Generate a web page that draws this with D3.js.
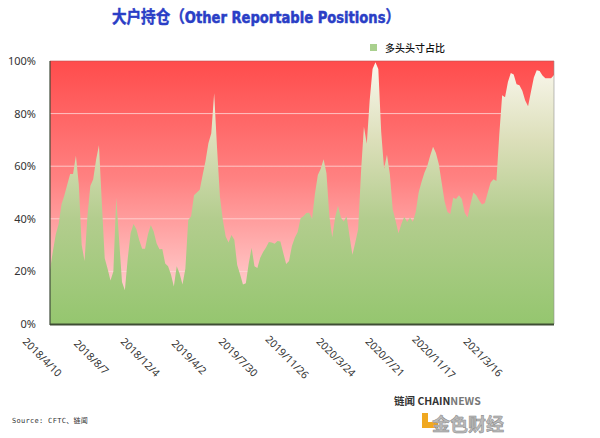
<!DOCTYPE html>
<html><head><meta charset="utf-8">
<script src="https://cdn.jsdelivr.net/npm/d3@7"></script>
<style>body{margin:0;background:#fff} svg{display:block}</style>
</head><body><svg id="c" width="600" height="438"></svg>
<script>
// ---- data ----
const startDate = "2018-04-10";          // first weekly report
const longShare = [
 20.5,27.7,34,38,45.5,49,53,57,57,64,
 53,30,24,41,52.5,55,62.5,68,46,25,
 21,16.5,20,48,32,16,12.8,25,34.6,38,
 36,31.8,28.6,28.6,34,37.6,35.2,30.7,28.4,28.5,
 23,22,18.8,14.3,22,19.2,15,21,39.5,41,
 49,50,51,56.7,62,68.7,72.5,87.7,67,48.5,
 39.6,33.3,31,33.8,32,22.4,18.9,15,15.5,23,
 29,22,21.3,25.2,27.4,29.1,31.2,31,30.5,31.6,
 31.4,27,22.8,24,29.7,32.8,35,40.2,41,42.2,
 42.3,40,49.5,56.7,59,62.6,57.3,41,33,40.5,
 45,40.5,39,41,33.5,26.3,31,36,58,75,
 68.5,85,97,99.5,97,73,59,64.4,57,43.5,
 39.3,34.5,38,40.8,38.8,40.5,38.9,42.6,50,54,
 57.5,60.1,64,67.4,65,60.8,53.7,46.7,42.6,41.8,
 48,47.5,49,47.5,42.2,40.5,45.5,50,49,47,
 45.4,46,50,53.8,55,54.4,72,87,86.2,92,
 95.4,94.9,91.2,90.8,88.7,85,82.8,88.3,93.7,96.5,
 96.2,94.5,93.4,93.4,93.4,94.7
];
const yTicks = [0, 20, 40, 60, 80, 100];
const xTickLabels = ["2018/4/10","2018/8/7","2018/12/4","2019/4/2","2019/7/30",
                     "2019/11/26","2020/3/24","2020/7/21","2020/11/17","2021/3/16"];
const title = "大户持仓（Other Reportable Positions）";
const legendLabel = "多头头寸占比";
const sourceText = "Source: CFTC、链闻";

// ---- build ----
const parseD = d3.utcParse("%Y-%m-%d");
const parseT = d3.utcParse("%Y/%m/%d");
const t0 = parseD(startDate);
const data = longShare.map((v, i) => ({date: d3.utcDay.offset(t0, 7 * i), value: v}));
const fmt = d3.utcFormat("%Y/%-m/%-d");

const svg = d3.select("#c");
const L = 50, R = 554, T = 61, B = 324;
const x = d3.scaleUtc().domain(d3.extent(data, d => d.date)).range([L, R]);
const y = d3.scaleLinear().domain([0, 100]).range([B, T]);

const defs = svg.append("defs");
const bg = defs.append("linearGradient").attr("id", "bgG")
  .attr("gradientUnits", "userSpaceOnUse").attr("x1", 0).attr("x2", 0).attr("y1", T).attr("y2", B);
bg.append("stop").attr("offset", 0).attr("stop-color", "#ff4c4c");
bg.append("stop").attr("offset", 0.45).attr("stop-color", "#ff8282");
bg.append("stop").attr("offset", 1).attr("stop-color", "#ffe4e4");
const ag = defs.append("linearGradient").attr("id", "arG")
  .attr("gradientUnits", "userSpaceOnUse").attr("x1", 0).attr("x2", 0).attr("y1", T).attr("y2", B);
ag.append("stop").attr("offset", 0).attr("stop-color", "#fbf8ef");
ag.append("stop").attr("offset", 0.3).attr("stop-color", "#dcdfba");
ag.append("stop").attr("offset", 0.6).attr("stop-color", "#b3cd8e");
ag.append("stop").attr("offset", 1).attr("stop-color", "#95c66f");

// plot background
svg.append("rect").attr("x", L).attr("y", T).attr("width", R - L).attr("height", B - T)
  .attr("fill", "url(#bgG)");

// gridlines
svg.append("g").selectAll("line").data(yTicks.filter(d => d > 0 && d < 100)).join("line")
  .attr("x1", L).attr("x2", R).attr("y1", d => y(d)).attr("y2", d => y(d))
  .attr("stroke", "#ffd6d6").attr("stroke-width", 1).attr("opacity", 0.85);

// area
const area = d3.area().x(d => x(d.date)).y0(B).y1(d => y(d.value));
svg.append("path").datum(data).attr("d", area).attr("fill", "url(#arG)");

// borders
svg.append("line").attr("x1", L).attr("x2", R).attr("y1", T).attr("y2", T)
  .attr("stroke", "#c05050").attr("stroke-width", 0.6);
svg.append("line").attr("x1", R).attr("x2", R).attr("y1", T).attr("y2", B)
  .attr("stroke", "#909090").attr("stroke-width", 0.6);
svg.append("line").attr("x1", L).attr("x2", L).attr("y1", T).attr("y2", B + 1)
  .attr("stroke", "#3f4a3a").attr("stroke-width", 1.2);
svg.append("line").attr("x1", L).attr("x2", R).attr("y1", B + 0.5).attr("y2", B + 0.5)
  .attr("stroke", "#3e4d34").attr("stroke-width", 1.8);

// y axis labels
const yAxis = d3.axisLeft(y).tickValues(yTicks).tickFormat(d => d + "%").tickSize(0).tickPadding(14);
const yg = svg.append("g").attr("transform", `translate(${L},0)`).call(yAxis);
yg.select(".domain").remove();
yg.selectAll("text").attr("font-family", "'Noto Sans','Open Sans',sans-serif")
  .attr("font-size", 11).attr("fill", "#333");

// x axis labels
const xVals = xTickLabels.map(s => parseT(s));
const xAxis = d3.axisBottom(x).tickValues(xVals).tickFormat(fmt).tickSize(0);
const xg = svg.append("g").attr("transform", `translate(0,${B})`).call(xAxis);
xg.select(".domain").remove();
xg.selectAll(".tick text")
  .attr("font-family", "'Noto Sans','Open Sans',sans-serif").attr("font-size", 10.5).attr("fill", "#333")
  .attr("text-anchor", "middle").attr("dy", null).attr("y", 0)
  .attr("dominant-baseline", "central")
  .attr("transform", "translate(-8,33) rotate(45)");

// title
svg.append("text").attr("x", 112).attr("y", 23)
  .attr("font-family", "'DejaVu Sans Condensed','Noto Sans CJK SC',sans-serif")
  .attr("font-weight", "bold").attr("font-size", 16.5).attr("fill", "#2a3ec6")
  .attr("stroke", "#2a3ec6").attr("stroke-width", 0.5)
  .attr("textLength", 288).attr("lengthAdjust", "spacingAndGlyphs").text(title);

// legend
svg.append("rect").attr("x", 370).attr("y", 44).attr("width", 7).attr("height", 7).attr("fill", "#a9d08e");
svg.append("text").attr("x", 385).attr("y", 51.5)
  .attr("font-family", "'Noto Sans CJK SC',sans-serif").attr("font-weight", 500)
  .attr("font-size", 10).attr("fill", "#111").text(legendLabel);

// source
svg.append("text").attr("x", 12).attr("y", 423)
  .attr("font-family", "'DejaVu Sans Mono','Noto Sans CJK SC',monospace")
  .attr("font-size", 7).attr("letter-spacing", 0.3).attr("fill", "#333").text(sourceText);

// bottom-right logos
const lg = svg.append("g");
const t1 = lg.append("text").attr("x", 394).attr("y", 405)
  .attr("font-family", "'Noto Sans CJK SC',sans-serif").attr("font-weight", "bold")
  .attr("font-size", 10.5).attr("fill", "#333");
t1.append("tspan").text("链闻 CHAIN");
t1.append("tspan").attr("fill", "#777").text("NEWS");
lg.append("rect").attr("x", 422).attr("y", 413).attr("width", 6).attr("height", 15).attr("fill", "#f0a820");
lg.append("rect").attr("x", 422).attr("y", 422).attr("width", 16).attr("height", 6).attr("fill", "#f0a820");
lg.append("text").attr("x", 432).attr("y", 431)
  .attr("font-family", "'Noto Sans CJK SC',sans-serif").attr("font-weight", "bold")
  .attr("font-size", 18).attr("fill", "#bbb").attr("stroke", "#888").attr("stroke-width", 0.5)
  .text("金色财经");
</script></body></html>
